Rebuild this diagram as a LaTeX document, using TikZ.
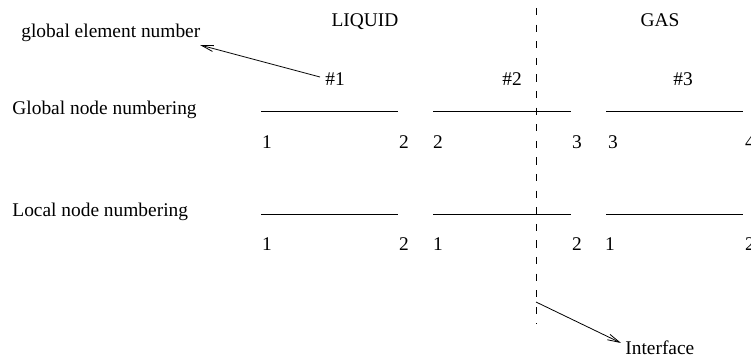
\documentclass[tikz,border=0pt]{standalone}
\usepackage{fontspec}
\setmainfont{Liberation Serif}
\usetikzlibrary{arrows.meta}
\begin{document}
\begin{tikzpicture}[x=0.5pt,y=-0.5pt,
  lbl/.style={inner sep=0pt,anchor=base,font=\fontsize{9.7}{11}\selectfont},
  lblw/.style={lbl,anchor=base west},
  elem/.style={line width=0.5pt},
  iface/.style={line width=0.5pt,dash pattern=on 3.6pt off 4.7pt},
  ptr/.style={line width=0.4pt,-{Straight Barb[length=6pt,width=3pt]}}]
\useasboundingbox (0,0) rectangle (751,358);
% titles
\node[lbl] (liq) at (365,27) {LIQUID};
\node[lbl] (gas) at (660,27) {GAS};
\node[lblw] (gen) at (21,38) {global element number};
\node[lblw] (gnn) at (12,115) {Global node numbering};
\node[lblw] (lnn) at (12,217) {Local node numbering};
% element numbers
\node[lbl] (e1) at (335,86) {\#1};
\node[lbl] (e2) at (512,86) {\#2};
\node[lbl] (e3) at (683,86) {\#3};
% global elements
\coordinate (g1a) at (261,112); \coordinate (g1b) at (398,112);
\coordinate (g2a) at (433,112); \coordinate (g2b) at (571,112);
\coordinate (g3a) at (606,112); \coordinate (g3b) at (743,112);
\draw[elem] (g1a) -- (g1b);
\draw[elem] (g2a) -- (g2b);
\draw[elem] (g3a) -- (g3b);
\node[lbl] (gn1) at (267,149) {1};
\node[lbl] (gn2) at (404,149) {2};
\node[lbl] (gn3) at (438,149) {2};
\node[lbl] (gn4) at (577,149) {3};
\node[lbl] (gn5) at (613,149) {3};
\node[lbl] (gn6) at (750,149) {4};
% local elements
\coordinate (l1a) at (261,215); \coordinate (l1b) at (398,215);
\coordinate (l2a) at (433,215); \coordinate (l2b) at (571,215);
\coordinate (l3a) at (606,215); \coordinate (l3b) at (743,215);
\draw[elem] (l1a) -- (l1b);
\draw[elem] (l2a) -- (l2b);
\draw[elem] (l3a) -- (l3b);
\node[lbl] (ln1) at (267,251) {1};
\node[lbl] (ln2) at (404,251) {2};
\node[lbl] (ln3) at (438,251) {1};
\node[lbl] (ln4) at (577,251) {2};
\node[lbl] (ln5) at (610,251) {1};
\node[lbl] (ln6) at (750,251) {2};
% interface
\coordinate (itop) at (536,8);
\coordinate (ibot) at (536,324);
\draw[iface] (itop) -- (ibot);
\node[lblw] (intf) at (625,355) {Interface};
\coordinate (iarr) at (536,302);
\coordinate (itip) at (621,343);
\draw[ptr] (iarr) -- (itip);
% element number pointer
\coordinate (earr) at (320,77);
\coordinate (etip) at (200,45);
\draw[ptr] (earr) -- (etip);
\end{tikzpicture}
\end{document}
